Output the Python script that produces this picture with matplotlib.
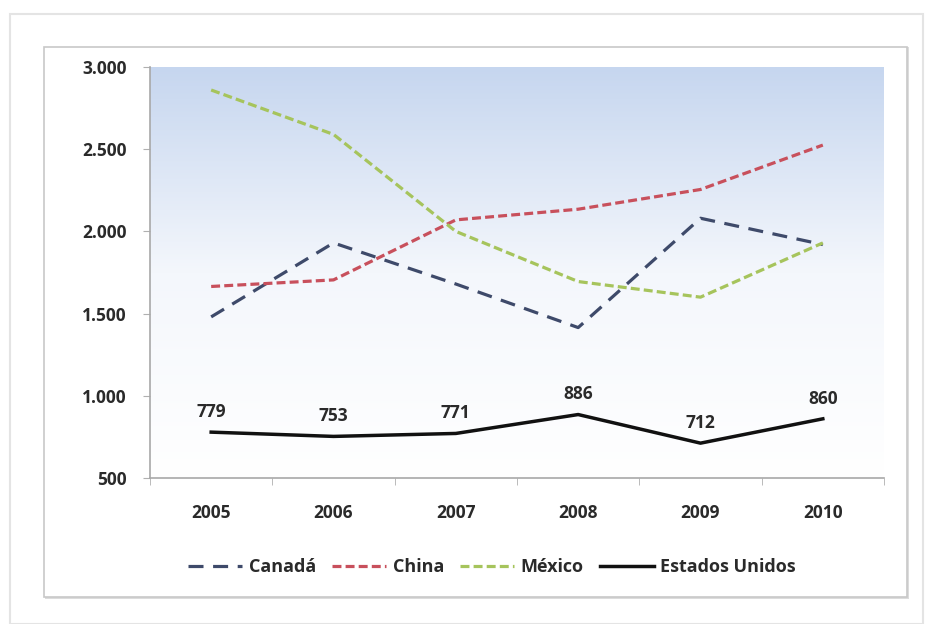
import numpy as np
import matplotlib
matplotlib.use("Agg")
import matplotlib.pyplot as plt
from matplotlib.patches import Rectangle
from matplotlib.colors import LinearSegmentedColormap

years = ["2005", "2006", "2007", "2008", "2009", "2010"]
canada = [1480, 1930, 1680, 1415, 2080, 1920]
china = [1665, 1705, 2070, 2135, 2255, 2525]
mexico = [2860, 2590, 2000, 1695, 1600, 1930]
usa = [779, 753, 771, 886, 712, 860]
y_ticks = [500, 1000, 1500, 2000, 2500, 3000]
y_tick_labels = ["500", "1.000", "1.500", "2.000", "2.500", "3.000"]

plt.rcParams["font.family"] = ["Open Sans", "DejaVu Sans"]
W, H = 927, 624
fig = plt.figure(figsize=(W / 100, H / 100), dpi=100)
fig.patch.set_facecolor("white")

# outer page frame and chart frame (kept behind the axes)
fig.add_artist(Rectangle((10 / W, 0), 913 / W, 1 - 14 / H, transform=fig.transFigure,
                         fill=False, edgecolor="#e4e4e4", linewidth=1.5, zorder=-3))
fig.add_artist(Rectangle((45 / W, 1 - 599 / H), 864 / W, 552 / H, transform=fig.transFigure,
                         fill=True, facecolor="#dcdcdc", edgecolor="none", zorder=-2))
fig.add_artist(Rectangle((44 / W, 1 - 597 / H), 863 / W, 550 / H, transform=fig.transFigure,
                         facecolor="white", edgecolor="#c8c8c8", linewidth=1.2, zorder=-1))

ax = fig.add_axes([150 / W, 1 - 478 / H, 734 / W, 411 / H])
ax.set_zorder(1)
ax.patch.set_alpha(0)
x = np.arange(len(years))
ax.set_xlim(-0.5, len(years) - 0.5)
ax.set_ylim(500, 3000)

# vertical background gradient: light blue at top fading to white
grad = LinearSegmentedColormap.from_list("bg", ["#ffffff", "#f4f7fc", "#c6d6ef"])
g = np.linspace(0, 1, 256).reshape(-1, 1)
ax.imshow(g, cmap=grad, origin="lower", aspect="auto",
          extent=[-0.5, len(years) - 0.5, 500, 3000], zorder=0)

lw = 2.3
ax.plot(x, canada, color="#3e4a6a", linewidth=lw, dashes=(4.7, 3.0), label="Canadá", zorder=3)
ax.plot(x, china, color="#c8505c", linewidth=lw, dashes=(2.8, 1.3), label="China", zorder=3)
ax.plot(x, mexico, color="#a6c45c", linewidth=lw, dashes=(2.8, 1.3), label="México", zorder=3)
ax.plot(x, usa, color="#111111", linewidth=lw + 0.2, label="Estados Unidos", zorder=4,
        solid_joinstyle="round")

for xi, v in zip(x, usa):
    ax.annotate(str(v), (xi, v), xytext=(0, 8), textcoords="offset points",
                ha="center", va="bottom", fontsize=12.5, fontweight="bold", color="#2a2a2a")

ax.set_yticks(y_ticks)
ax.set_yticklabels(y_tick_labels)
ax.set_xticks(x)
ax.set_xticklabels(years)
ax.set_xticks(np.arange(-0.5, len(years)), minor=True)
ax.tick_params(axis="x", which="major", length=0, pad=19)
ax.tick_params(axis="x", which="minor", length=5, color="#b0b0b0", direction="out")
ax.tick_params(axis="y", length=5, color="#b0b0b0", pad=12)
for lbl in ax.get_xticklabels() + ax.get_yticklabels():
    lbl.set_fontsize(12.5)
    lbl.set_fontweight("bold")
    lbl.set_color("#2a2a2a")

for s in ["top", "right"]:
    ax.spines[s].set_visible(False)
for s in ["left", "bottom"]:
    ax.spines[s].set_color("#a8a8a8")
    ax.spines[s].set_linewidth(1.2)

leg = fig.legend(loc="center", bbox_to_anchor=(492 / W, 1 - 567 / H), ncol=4, frameon=False,
                 handlelength=3.0, columnspacing=0.9, handletextpad=0.35,
                 prop={"size": 13, "weight": "bold"})
for t in leg.get_texts():
    t.set_color("#2a2a2a")

fig.savefig("out.png", dpi=100, facecolor="white")
